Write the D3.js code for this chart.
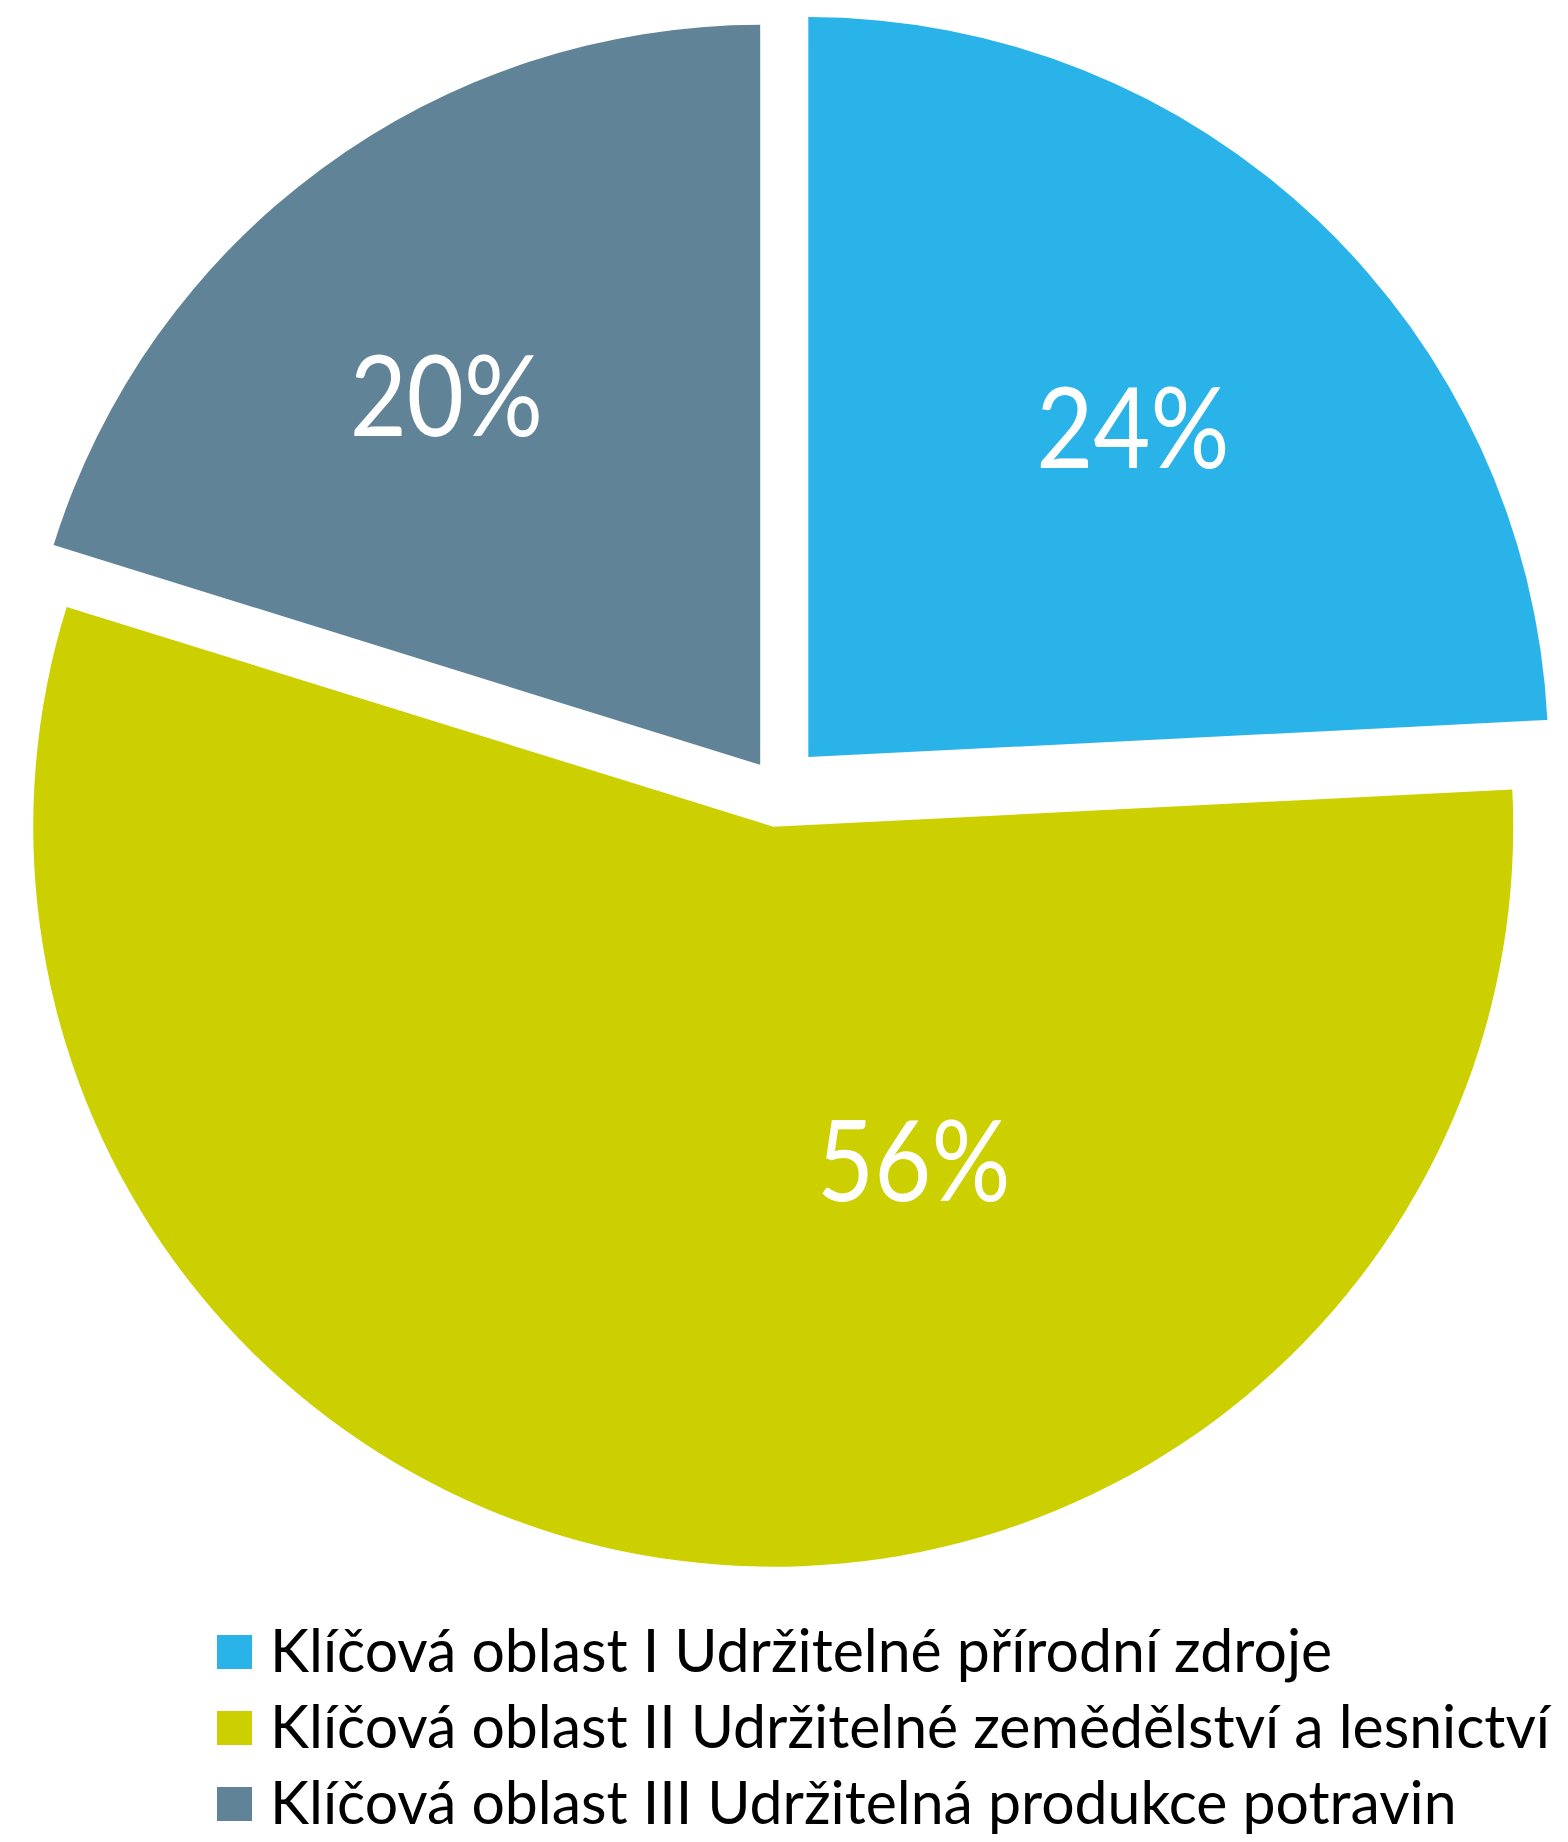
<!DOCTYPE html>
<html>
<head>
<meta charset="utf-8">
<script src="https://cdn.jsdelivr.net/npm/d3@7"></script>
<style>
  html, body { margin: 0; padding: 0; background: #fff; }
  svg { display: block; }
</style>
</head>
<body>
<svg id="chart"></svg>
<script>
const width = 1568;
const height = 1842;

// data (shares, labels show them rounded)
const categories = [
    "Klíčová oblast I Udržitelné přírodní zdroje",
    "Klíčová oblast II Udržitelné zemědělství a lesnictví",
    "Klíčová oblast III Udržitelná produkce potravin"
];
const values = [24.2, 55.6, 20.2];
const colors = ["#2AB3E8", "#CCCF00", "#608397"];

// layout
const center = { x: 778, y: 789 };
const radius = 740;
const explode = [44, 38, 30]; // how far each slice is pulled out
// label spot per slice: angle shift (deg) from the slice middle, distance as share of radius
const labelSpots = [{ da: 1, k: 0.625 }, { da: -30, k: 0.49 }, { da: -4, k: 0.655 }];

const svg = d3.select("#chart")
    .attr("width", width)
    .attr("height", height)
    .attr("viewBox", [0, 0, width, height]);

const pie = d3.pie().sort(null).value(d => d);
const arcs = pie(values);

const arc = d3.arc().innerRadius(0).outerRadius(radius);

const total = d3.sum(values);

const slices = svg.append("g")
    .selectAll("g.slice")
    .data(arcs)
    .join("g")
    .attr("class", "slice")
    .attr("transform", (d, i) => {
        const mid = (d.startAngle + d.endAngle) / 2;
        const x = center.x + explode[i] * Math.sin(mid);
        const y = center.y - explode[i] * Math.cos(mid);
        return `translate(${x},${y})`;
    });

slices.append("path")
    .attr("d", arc)
    .attr("fill", (d, i) => colors[i]);

//percent labels
slices.append("text")
    .attr("transform", (d, i) => {
        const mid = (d.startAngle + d.endAngle) / 2 + labelSpots[i].da * Math.PI / 180;
        const r = radius * labelSpots[i].k;
        return `translate(${r * Math.sin(mid)},${-r * Math.cos(mid)})`;
    })
    .attr("text-anchor", "middle")
    .attr("dy", "0.36em")
    .attr("font-family", "Lato, 'Open Sans', sans-serif")
    .attr("font-size", "112px")
    .attr("fill", "#fff")
    .text(d => Math.round(d.value / total * 100) + "%")
    .each(function () {
        const len = this.getComputedTextLength();
        d3.select(this).attr("textLength", len * 0.88).attr("lengthAdjust", "spacingAndGlyphs");
    });

// legend
const legend = svg.append("g")
    .attr("transform", "translate(217,1635)");

const rows = legend.selectAll("g")
    .data(categories)
    .join("g")
    .attr("transform", (d, i) => `translate(0,${i * 76})`);

rows.append("rect")
    .attr("width", 35)
    .attr("height", 34)
    .attr("fill", (d, i) => colors[i]);

const labels = rows.append("text")
    .attr("x", 53)
    .attr("y", 37)
    .attr("font-family", "Lato, 'Open Sans', sans-serif")
    .attr("font-size", "60px")
    .attr("fill", "#000")
    .text(d => d);

// stretch legend texts a little so the longest one ends just before the right edge
const lengths = [];
labels.each(function () { lengths.push(this.getComputedTextLength()); });
const squeeze = (1550 - 270) / d3.max(lengths);
labels.each(function (d, i) {
    d3.select(this).attr("textLength", lengths[i] * squeeze).attr("lengthAdjust", "spacingAndGlyphs");
});
</script>
</body>
</html>
